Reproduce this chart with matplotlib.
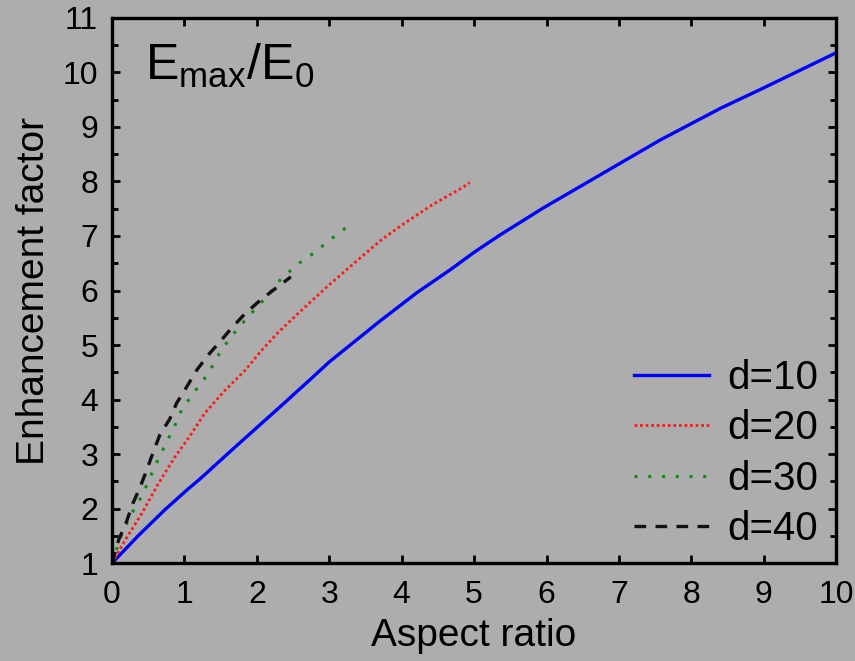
import matplotlib
matplotlib.use("Agg")
import matplotlib.pyplot as plt
from matplotlib.ticker import MultipleLocator

plt.rcParams['font.family'] = ['Liberation Sans', 'DejaVu Sans']
plt.rcParams['mathtext.fontset'] = 'custom'
plt.rcParams['mathtext.rm'] = 'Liberation Sans'
plt.rcParams['mathtext.it'] = 'Liberation Sans'

# Enhancement factor vs aspect ratio for several separations d
d10_x = [0, 0.36, 0.73, 1.05, 1.22, 1.70, 2.02, 2.34, 2.73, 3.00, 3.70, 4.21,
         4.67, 5.00, 5.36, 5.95, 6.74, 7.57, 8.40, 8.99, 10.0]
d10_y = [1.0, 1.50, 1.98, 2.36, 2.55, 3.13, 3.51, 3.89, 4.36, 4.69, 5.44, 5.96,
         6.38, 6.70, 7.02, 7.51, 8.12, 8.76, 9.34, 9.71, 10.36]

d20_x = [0, 0.18, 0.41, 0.64, 0.87, 1.10, 1.28, 1.56, 1.84, 2.07, 2.30, 2.57,
         2.97, 3.29, 3.72, 3.98, 4.42, 4.83, 4.94]
d20_y = [1.0, 1.42, 1.91, 2.46, 2.95, 3.38, 3.75, 4.17, 4.54, 4.91, 5.24, 5.58,
         6.07, 6.44, 6.93, 7.18, 7.57, 7.88, 7.98]

d30_x = [0, 0.13, 0.27, 0.36, 0.48, 0.59, 0.71, 0.85, 0.96, 1.12, 1.28, 1.38,
         1.51, 1.68, 1.88, 2.07, 2.32, 2.55, 2.78, 3.01, 3.23]
d30_y = [1.0, 1.52, 1.91, 2.10, 2.43, 2.77, 3.10, 3.47, 3.81, 4.11, 4.39, 4.60,
         4.91, 5.21, 5.52, 5.79, 6.19, 6.47, 6.68, 6.93, 7.15]

d40_x = [0, 0.09, 0.20, 0.29, 0.39, 0.48, 0.57, 0.66, 0.80, 0.89, 1.03, 1.17,
         1.33, 1.49, 1.65, 1.84, 2.02, 2.23, 2.47]
d40_y = [1.0, 1.42, 1.76, 2.10, 2.40, 2.71, 3.04, 3.35, 3.65, 3.93, 4.23, 4.54,
         4.82, 5.06, 5.31, 5.58, 5.79, 6.01, 6.25]

labels = ["d=10", "d=20", "d=30", "d=40"]
x_ticks = list(range(0, 11))
y_ticks = list(range(1, 12))

bg = '#adadad'
fig = plt.figure(figsize=(8.55, 6.61), dpi=100, facecolor=bg)
ax = fig.add_axes([0.131, 0.148, 0.847, 0.825])
ax.set_facecolor(bg)

ax.plot(d10_x, d10_y, color='#0000ff', lw=2.4, ls='-', label=labels[0])
ax.plot(d20_x, d20_y, color='#ff1a1a', lw=2.0, ls=(0, (1, 1)), label=labels[1])
ax.plot(d30_x, d30_y, color='#108a10', lw=2.2, ls=(0, (1, 3.5)), label=labels[2])
ax.plot(d40_x, d40_y, color='#111111', lw=2.4, ls=(0, (3.5, 2.8)), label=labels[3])

ax.set_xlim(0, 10)
ax.set_ylim(1, 11)
ax.set_xticks(x_ticks)
ax.set_yticks(y_ticks)
ax.yaxis.set_minor_locator(MultipleLocator(0.5))

for sp in ax.spines.values():
    sp.set_linewidth(2.4)
    sp.set_color('black')

ax.tick_params(which='both', direction='in', top=True, right=True,
               width=2.0, colors='black')
ax.tick_params(which='major', length=6, labelsize=23, pad=10)
ax.tick_params(axis='x', which='major', pad=12)
ax.tick_params(which='minor', length=4)

ax.set_xlabel("Aspect ratio", fontsize=28, labelpad=6)
ax.set_ylabel("Enhancement factor", fontsize=28, labelpad=8)

ax.text(0.045, 0.955, r"$\mathregular{E_{max}/E_0}$", transform=ax.transAxes,
        fontsize=36, ha='left', va='top')

leg = ax.legend(loc='lower right', bbox_to_anchor=(0.975, 0.028),
                frameon=False, fontsize=29, handlelength=1.87,
                handletextpad=0.45, labelspacing=0.305, borderpad=0,
                borderaxespad=0)

fig.savefig("out.png", dpi=100, facecolor=bg)
